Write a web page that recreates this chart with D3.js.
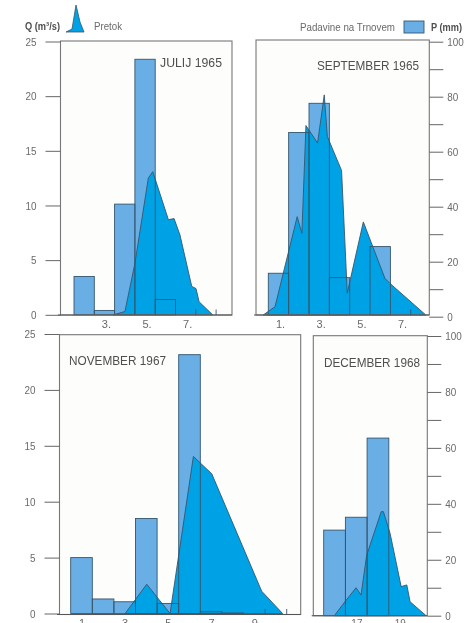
<!DOCTYPE html>
<html><head><meta charset="utf-8">
<script src="https://cdn.jsdelivr.net/npm/d3@7/dist/d3.min.js"></script>
<style>
html,body{margin:0;padding:0;background:#fff;overflow:hidden}
svg{display:block;filter:blur(0.35px)}
text{font-family:"Liberation Sans",Arial,sans-serif}
</style></head><body>
<svg id="c" width="475" height="623"></svg>
<script>
// ---- data ----
const titles = ["JULIJ 1965","SEPTEMBER 1965","NOVEMBER 1967","DECEMBER 1968"];
const qTicks = [0,5,10,15,20,25];
const pTicks = [0,10,20,30,40,50,60,70,80,90,100];
const pLabels = [0,20,40,60,80,100];

const julyDays = [2,3,4,5,6];
const julyRain = [14,1.6,40.5,93.5,5.6];
const julyFlowDay = [3.44,4.01,4.5,5.16,5.38,6.15,6.43,6.72,7.3,7.51,7.66,8.33];
const julyFlowQ   = [0,0.3,4.7,12.5,13.1,8.7,8.8,7.3,2.6,2.4,1.2,0];
const julyLabels = [3,5,7];

const septDays = [1,2,3,4,5,6];
const septRain = [15.8,67,77.6,14.2,0,25.5];
const septFlowDay = [0.25,0.83,1.92,2.15,2.35,2.92,3.25,3.4,4.1,4.38,5.17,6.23,6.47,8.24];
const septFlowQ   = [0,0.76,8.98,7.46,17.3,15.7,20.1,16.3,13.2,2,8.5,3.35,2.9,0];
const septLabels = [1,3,5,7];

const novDays = [1,2,3,4,5,6,7,8];
const novRain = [20,5.2,4.2,34,3.6,92.6,0.6,0.2];
const novFlowDay = [3.02,4.02,5.1,6.18,7.03,9.34,10.31];
const novFlowQ   = [0,2.62,0,14.05,12.5,2,0];
const novLabels = [1,3,5,7,9];

const decDays = [16,17,18];
const decRain = [30.6,35.2,63.5];
const decFlowDay = [15.99,16.48,16.99,17.22,17.48,18.15,18.25,18.56,19.07,19.33,19.48,20.22];
const decFlowQ   = [0,1.25,2.5,1.85,5.4,9.3,9.3,7.35,2.6,2.75,1.25,0];
const decLabels = [17,19];

// ---- layout ----
const BAR="#6aaee6", FLOW="#00a2e6", EDGE="#35566e", FRAME="#777", INK="#6a6a6a", DARK="#4f4f4f";
const panels = [
 {title:titles[0],days:julyDays,rain:julyRain,fd:julyFlowDay,fq:julyFlowQ,labels:julyLabels,
  l:60.5,r:232,t:41,b:315,axisL:58,dayA:1.5,xA:74,w:20.3,side:"left",y0:314.8,y1:41.5,qy0:314.8,qy1:41.5,
  tickMarks:[7.5,8.5],titleX:160,titleY:67,titleW:62,labelY:331},
 {title:titles[1],days:septDays,rain:septRain,fd:septFlowDay,fq:septFlowQ,labels:septLabels,
  l:256,r:429.3,t:40,b:315,axisL:254,dayA:0.5,xA:268.3,w:20.35,side:"right",y0:316.7,y1:41.7,qy0:315,qy1:41.2,
  tickMarks:[7.5],titleX:317,titleY:70,titleW:102,labelY:331},
 {title:titles[2],days:novDays,rain:novRain,fd:novFlowDay,fq:novFlowQ,labels:novLabels,
  l:59.5,r:300.7,t:334.7,b:614.5,axisL:57,dayA:0.5,xA:70.7,w:21.6,side:"left",y0:613.5,y1:334,qy0:613.5,qy1:334,
  tickMarks:[9.5,10.5],titleX:69,titleY:365,titleW:97,labelY:630},
 {title:titles[3],days:decDays,rain:decRain,fd:decFlowDay,fq:decFlowQ,labels:decLabels,
  l:313.3,r:427.3,t:335.7,b:615.7,axisL:311.7,dayA:15.5,xA:323.7,w:21.7,side:"right",y0:615.7,y1:336,qy0:615.7,qy1:336,
  tickMarks:[],titleX:324,titleY:367,titleW:96,labelY:630}
];

const svg = d3.select("#c");

panels.forEach(p=>{
  const g = svg.append("g");
  const x = d3.scaleLinear().domain([p.dayA,p.dayA+1]).range([p.xA,p.xA+p.w]);
  const yQ = d3.scaleLinear().domain([0,25]).range([p.qy0,p.qy1]);
  const yP = d3.scaleLinear().domain([0,100]).range([p.y0,p.y1]);
  const barH = e=>Math.min(p.b,p.y0)-yP(e.v);

  g.append("rect").attr("x",p.l).attr("y",p.t).attr("width",p.r-p.l).attr("height",p.b-p.t)
    .attr("fill","#fdfdfb");

  const bars = p.days.map((d,i)=>({d,v:p.rain[i]})).filter(e=>e.v>0);
  g.selectAll(".bar").data(bars).join("rect").attr("class","bar")
    .attr("x",e=>x(e.d-0.5)).attr("width",e=>x(e.d+0.5)-x(e.d-0.5))
    .attr("y",e=>yP(e.v)).attr("height",barH).attr("fill",BAR);

  const area = d3.line().x(e=>x(e[0])).y(e=>yQ(e[1]));
  g.append("path").attr("d",area(d3.zip(p.fd,p.fq))+"Z")
    .attr("fill",FLOW).attr("stroke",EDGE).attr("stroke-width",0.9).attr("stroke-linejoin","miter");

  g.selectAll(".out").data(bars).join("rect").attr("class","out")
    .attr("x",e=>x(e.d-0.5)).attr("width",e=>x(e.d+0.5)-x(e.d-0.5))
    .attr("y",e=>yP(e.v)).attr("height",barH)
    .attr("fill","none").attr("stroke",EDGE).attr("stroke-width",0.9);

  g.append("rect").attr("x",p.l).attr("y",p.t).attr("width",p.r-p.l).attr("height",p.b-p.t)
    .attr("fill","none").attr("stroke",FRAME).attr("stroke-width",1.1);

  if(p.side==="left"){
    const ax = d3.axisLeft(yQ).tickValues(qTicks).tickSize(15).tickPadding(9).tickFormat(d3.format("d"));
    styleAxis(g.append("g").attr("transform",`translate(${p.l},0)`).call(ax));
  } else {
    const ax = d3.axisRight(yP).tickValues(pTicks).tickSize(14).tickPadding(4)
      .tickFormat(v=>pLabels.includes(v)?v:"");
    styleAxis(g.append("g").attr("transform",`translate(${p.r},0)`).call(ax));
  }

  const bx = d3.axisBottom(x).tickValues(p.labels).tickSize(0).tickPadding(0).tickFormat(d=>d+".");
  const b = g.append("g").attr("transform",`translate(0,${p.labelY-11})`).call(bx);
  b.select(".domain").remove();
  b.selectAll("text").attr("font-size",11).attr("fill",INK).attr("dx",1.5)
    .each(function(){ const n=this.textContent.length; this.setAttribute("textLength",n*4.6); this.setAttribute("lengthAdjust","spacingAndGlyphs"); });

  g.append("line").attr("x1",p.axisL).attr("x2",p.r).attr("y1",p.b).attr("y2",p.b)
    .attr("stroke","#555").attr("stroke-width",1.1);

  g.selectAll(".mk").data(p.tickMarks).join("line").attr("class","mk")
    .attr("x1",d=>x(d)).attr("x2",d=>x(d)).attr("y1",p.b).attr("y2",p.b-5.5)
    .attr("stroke",EDGE).attr("stroke-width",0.9);

  label(g,p.titleX,p.titleY,p.title,13,p.titleW,DARK);
});

function styleAxis(a){
  a.select(".domain").remove();
  a.selectAll("line").attr("stroke","#666").attr("stroke-width",1);
  a.selectAll("text").attr("font-size",11.5).attr("fill",INK)
    .each(function(){ const n=this.textContent.length; if(n){ this.setAttribute("textLength",n*5.5); this.setAttribute("lengthAdjust","spacingAndGlyphs"); } });
}
function label(parent,x,y,t,size,w,fill,bold){
  return parent.append("text").attr("x",x).attr("y",y).attr("font-size",size)
    .attr("textLength",w).attr("lengthAdjust","spacingAndGlyphs")
    .attr("font-weight",bold?"bold":"normal").attr("fill",fill).text(t);
}

// ---- legend ----
label(svg,25,30,"Q (m³/s)",10.5,35,DARK,true);
const lg = d3.line();
svg.append("path").attr("d",lg([[66,32],[72,29],[76,5],[80,22],[84,32]])+"Z")
  .attr("fill",FLOW).attr("stroke",EDGE).attr("stroke-width",0.8);
label(svg,94,30,"Pretok",11,28,INK);
label(svg,300,31,"Padavine na Trnovem",11,95,INK);
svg.append("rect").attr("x",404).attr("y",21).attr("width",20).attr("height",12)
  .attr("fill",BAR).attr("stroke",EDGE).attr("stroke-width",0.9);
label(svg,431,31,"P (mm)",10.5,31,DARK,true);
</script>
</body></html>
